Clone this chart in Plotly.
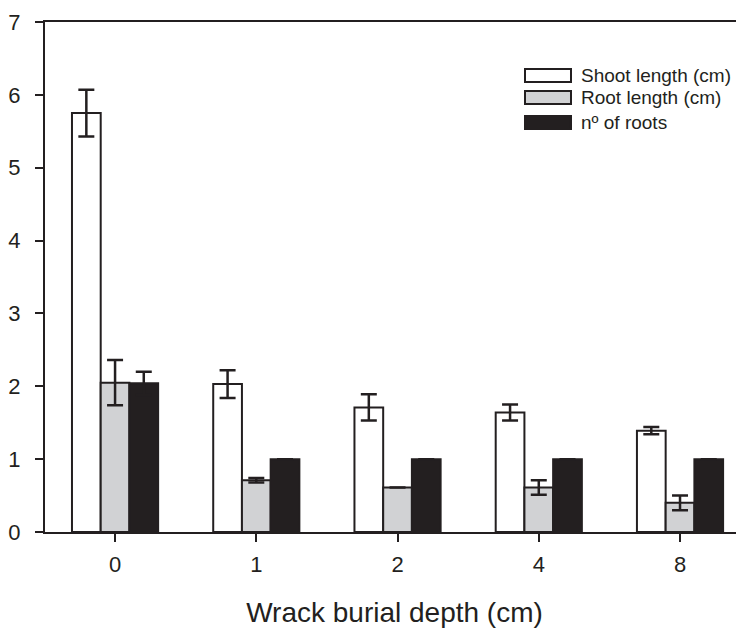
import plotly.graph_objects as go

# ---- data ----
depths = ["0", "1", "2", "4", "8"]
shoot_len = [5.75, 2.03, 1.71, 1.64, 1.39]
shoot_err = [0.32, 0.19, 0.18, 0.11, 0.05]
root_len = [2.05, 0.71, 0.61, 0.61, 0.40]
root_err = [0.31, 0.03, 0.0, 0.10, 0.10]
n_roots = [2.04, 1.0, 1.0, 1.0, 1.0]
n_roots_err = [0.16, 0.0, 0.0, 0.0, 0.0]
y_ticks = [0, 1, 2, 3, 4, 5, 6, 7]
series_names = ["Shoot length (cm)", "Root length (cm)", "nº of roots"]

DARK = "#231f20"
GRAY = "#d1d2d4"
FILLS = ["white", GRAY, DARK]
FONT = "Liberation Sans, Arial, sans-serif"

def err(vals):
    return dict(type="data", array=vals, visible=True, color=DARK,
                thickness=2.5, width=8)

fig = go.Figure()
for name, vals, errs, fill in zip(series_names,
                                  [shoot_len, root_len, n_roots],
                                  [shoot_err, root_err, n_roots_err],
                                  FILLS):
    fig.add_trace(go.Bar(
        x=depths, y=vals, name=name, showlegend=False,
        marker=dict(color=fill, line=dict(color=DARK, width=2)),
        error_y=err(errs),
    ))

# legend drawn as boxes + text (wide swatches as in the original)
sw_x0, sw_x1, txt_x = 0.6867, 0.7525, 0.7639
row_top = [0.9078, 0.8647, 0.8157]
sw_h = 0.0255
for name, fill, top in zip(series_names, FILLS, row_top):
    fig.add_shape(type="rect", xref="paper", yref="paper",
                  x0=sw_x0, x1=sw_x1, y0=top - sw_h, y1=top,
                  fillcolor=fill, line=dict(color=DARK, width=2))
    fig.add_annotation(xref="paper", yref="paper", x=txt_x, y=top - sw_h / 2,
                       xanchor="left", yanchor="middle", showarrow=False,
                       text=name, font=dict(size=19, color=DARK))

# page body has an 8px margin, so the figure is shifted by 8px
fig.update_layout(
    width=736, height=620,
    margin=dict(l=37, r=0, t=14, b=96),
    paper_bgcolor="white", plot_bgcolor="white",
    font=dict(family=FONT, color=DARK, size=22),
    barmode="group", bargap=0.39, bargroupgap=0,
    xaxis=dict(
        type="category", range=[-0.496, 4.453], automargin=False,
        showline=True, linecolor=DARK, linewidth=2, mirror=True,
        ticks="outside", ticklen=8, tickwidth=2, tickcolor=DARK,
        showgrid=False, zeroline=False,
        tickfont=dict(size=22, color=DARK),
        ticklabelstandoff=4,
        title=dict(text="Wrack burial depth (cm)", font=dict(size=28, color=DARK),
                   standoff=26),
    ),
    yaxis=dict(
        range=[0, 7], tickvals=y_ticks, automargin=False,
        showline=True, linecolor=DARK, linewidth=2, mirror=False,
        ticks="outside", ticklen=8, tickwidth=2, tickcolor=DARK,
        showgrid=False, zeroline=False,
        tickfont=dict(size=22, color=DARK),
        ticklabelstandoff=10,
    ),
)

fig.write_html("out.html")
